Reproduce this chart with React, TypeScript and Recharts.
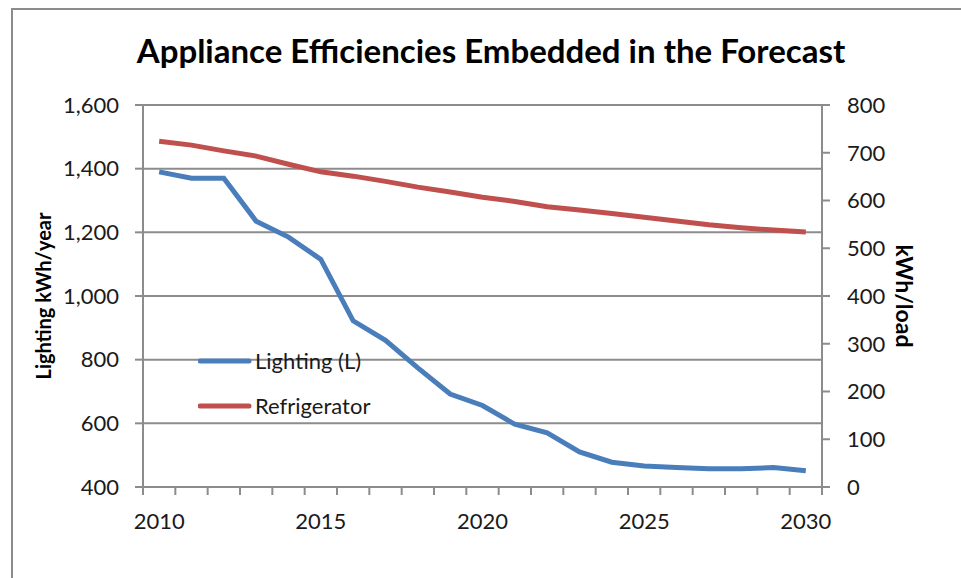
import { LineChart, Line, XAxis, YAxis, CartesianGrid, Legend } from 'recharts';

const years = [
  2010, 2011, 2012, 2013, 2014, 2015, 2016, 2017, 2018, 2019, 2020,
  2021, 2022, 2023, 2024, 2025, 2026, 2027, 2028, 2029, 2030,
];
// Lighting, kWh/year (left axis)
const lighting = [
  1390, 1370, 1370, 1235, 1185, 1115, 922, 861, 774, 692, 656,
  597, 570, 510, 478, 466, 461, 457, 457, 461, 451,
];
// Refrigerator, kWh/load (right axis)
const refrigerator = [
  724, 716, 704, 693, 676, 660, 651, 640, 628, 618, 607,
  598, 587, 580, 573, 565, 557, 549, 543, 538, 534,
];
const leftTicks = [400, 600, 800, 1000, 1200, 1400, 1600];
const rightTicks = [0, 100, 200, 300, 400, 500, 600, 700, 800];
const yearLabels = [2010, 2015, 2020, 2025, 2030];

const data = years.map((year, i) => ({
  year,
  lighting: lighting[i],
  refrigerator: refrigerator[i],
}));

// tick marks sit between the yearly categories
const boundaryTicks = [...years.map(y => y - 0.5), years[years.length - 1] + 0.5];
const xDomain = [boundaryTicks[0], boundaryTicks[boundaryTicks.length - 1]];

const FONT = 'Lato, "Open Sans", sans-serif';
const GRID = '#8c8c8c';
const TEXT = '#1a1a1a';

const PLOT_TOP = 105;
const PLOT_BOTTOM = 487;

const renderLegend = (props: any) => {
  const { payload } = props;
  return (
    <div style={{ fontFamily: FONT }}>
      {payload.map((entry: any) => (
        <div key={entry.value} style={{ display: 'flex', alignItems: 'center', height: 45 }}>
          <svg width={55} height={10}>
            <line x1={2} y1={5} x2={51} y2={5} stroke={entry.color} strokeWidth={5} strokeLinecap="round" />
          </svg>
          <span style={{ fontSize: 22, color: TEXT, marginLeft: 2 }}>{entry.value}</span>
        </div>
      ))}
    </div>
  );
};

// rotated axis title, centred on the plot height
const axisTitle = (text: string, angle: number, dx: number, size: number) => (props: any) => {
  const { viewBox } = props;
  const cx = viewBox.x + dx;
  const cy = (PLOT_TOP + PLOT_BOTTOM) / 2;
  return (
    <text
      x={cx}
      y={cy}
      transform={`rotate(${angle}, ${cx}, ${cy})`}
      textAnchor="middle"
      dominantBaseline="central"
      fontFamily={FONT}
      fontWeight={700}
      fontSize={size}
      fill="#000"
    >
      {text}
    </text>
  );
};

export default function App() {
  return (
    <div style={{ position: 'absolute', left: 0, top: 0, width: 961, height: 578, background: '#fff', overflow: 'hidden' }}>
      {/* chart frame */}
      <div
        style={{
          position: 'absolute',
          left: 11,
          top: 8,
          width: 970,
          height: 600,
          borderTop: `2px solid ${GRID}`,
          borderLeft: `2px solid ${GRID}`,
        }}
      />
      <div
        style={{
          position: 'absolute',
          left: 0,
          width: 982,
          top: 30,
          textAlign: 'center',
          fontFamily: FONT,
          fontWeight: 700,
          fontSize: 33,
          color: '#000',
          lineHeight: '40px',
        }}
      >
        Appliance Efficiencies Embedded in the Forecast
      </div>
      <div style={{ position: 'absolute', left: 0, top: 0 }}>
        <LineChart
          width={961}
          height={578}
          data={data}
          margin={{ top: PLOT_TOP, right: 0, bottom: 578 - PLOT_BOTTOM - 50, left: 0 }}
        >
          <CartesianGrid vertical={false} stroke={GRID} strokeWidth={2} xAxisId="axis" yAxisId="left" />
          <XAxis
            xAxisId="axis"
            dataKey="year"
            type="number"
            domain={xDomain}
            ticks={boundaryTicks}
            tickFormatter={() => ''}
            tickSize={8}
            height={10}
            stroke={GRID}
            strokeWidth={2}
            interval={0}
          />
          <XAxis
            xAxisId="years"
            dataKey="year"
            type="number"
            domain={xDomain}
            ticks={yearLabels}
            axisLine={false}
            tickLine={false}
            tickSize={0}
            tickMargin={16}
            height={40}
            interval={0}
            tick={{ fill: TEXT, fontSize: 22, fontFamily: FONT }}
          />
          <YAxis
            yAxisId="left"
            domain={[400, 1600]}
            ticks={leftTicks}
            width={143}
            tickSize={8}
            tickMargin={16}
            stroke={GRID}
            strokeWidth={2}
            interval={0}
            tickFormatter={(v: number) => v.toLocaleString('en-US')}
            tick={{ fill: TEXT, fontSize: 22, fontFamily: FONT }}
            label={{ content: axisTitle('Lighting kWh/year', -90, 43, 20) }}
          />
          <YAxis
            yAxisId="right"
            orientation="right"
            domain={[0, 800]}
            ticks={rightTicks}
            width={139}
            tickSize={8}
            tickMargin={17}
            stroke={GRID}
            strokeWidth={2}
            interval={0}
            tick={{ fill: TEXT, fontSize: 22, fontFamily: FONT }}
            label={{ content: axisTitle('kWh/load', 90, 83, 23) }}
          />
          <Legend
            layout="vertical"
            align="center"
            verticalAlign="middle"
            wrapperStyle={{ left: 198, top: 338, width: 220 }}
            content={renderLegend}
          />
          <Line
            xAxisId="axis"
            yAxisId="left"
            type="linear"
            dataKey="lighting"
            name="Lighting (L)"
            stroke="#4a7ebb"
            strokeWidth={5}
            dot={false}
            isAnimationActive={false}
          />
          <Line
            xAxisId="axis"
            yAxisId="right"
            type="linear"
            dataKey="refrigerator"
            name="Refrigerator"
            stroke="#c0504d"
            strokeWidth={5}
            dot={false}
            isAnimationActive={false}
          />
        </LineChart>
      </div>
    </div>
  );
}
